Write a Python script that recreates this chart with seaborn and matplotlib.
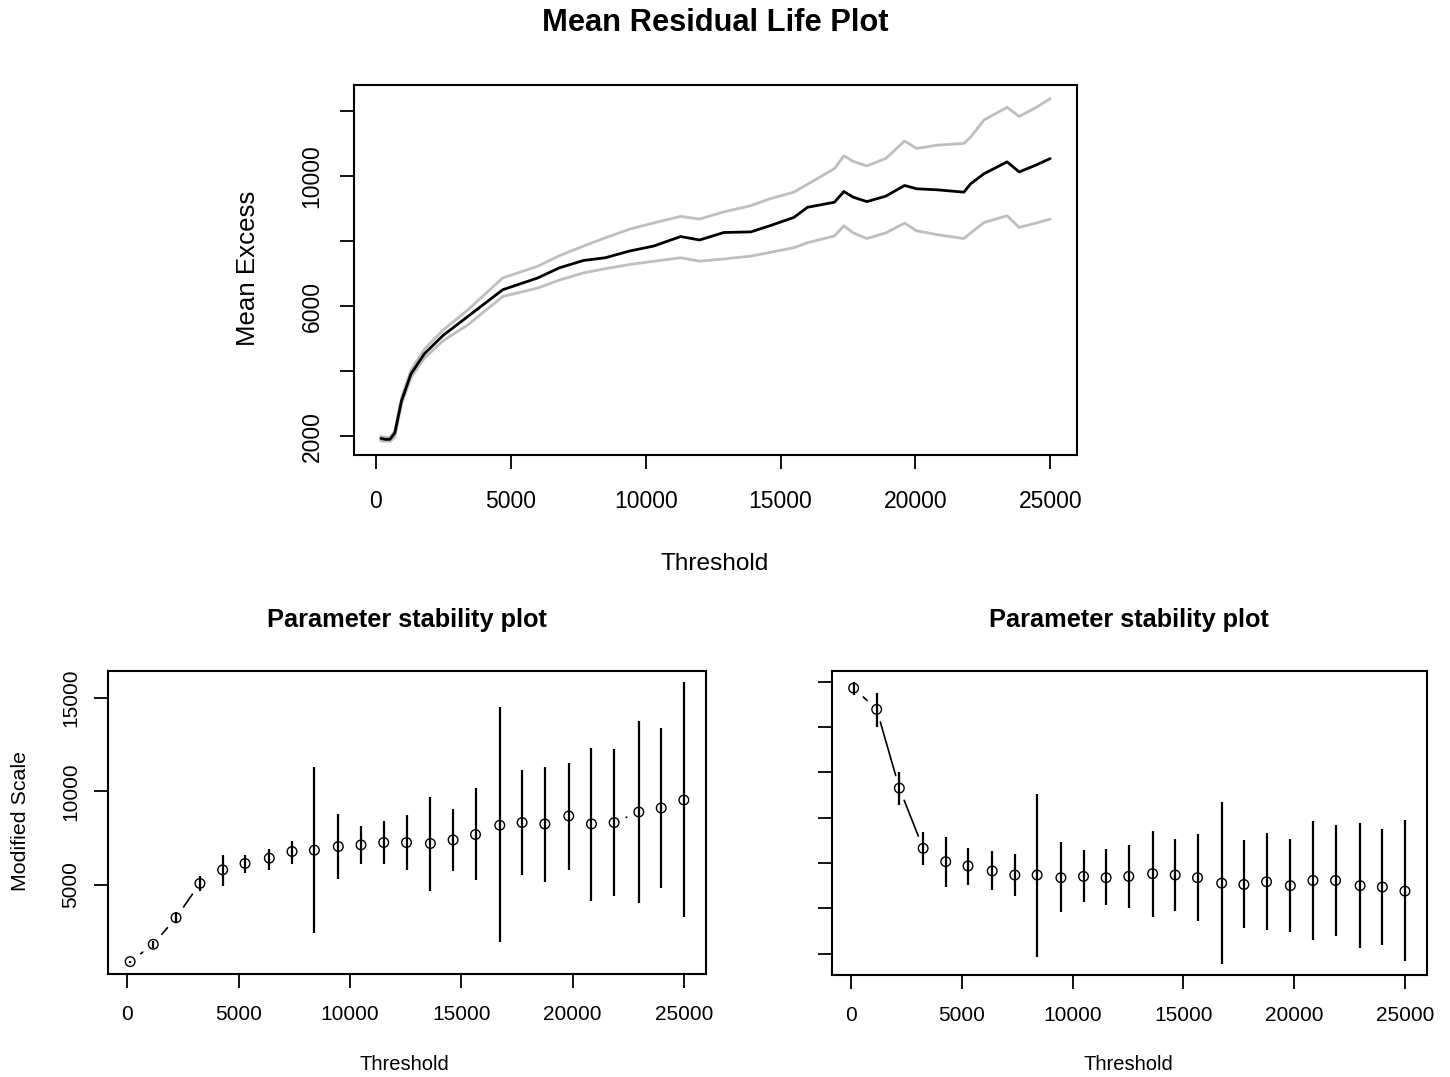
import numpy as np
import pandas as pd
import matplotlib
matplotlib.use("Agg")
import matplotlib.pyplot as plt
import seaborn as sns

# ---------------- data ----------------
# Mean residual life plot
mrl_threshold = [180, 350, 520, 700, 950, 1300, 1800, 2500, 3400, 4700, 6000, 6800,
                 7700, 8500, 9400, 10300, 11300, 12000, 12900, 13900, 14600, 15500,
                 16000, 17000, 17350, 17700, 18200, 18900, 19600, 20050, 20800,
                 21800, 22050, 22550, 23400, 23850, 24450, 25000]
mrl_mean = [1930, 1900, 1900, 2100, 3087, 3915, 4537, 5105, 5675, 6503, 6866, 7177,
            7404, 7487, 7693, 7848, 8140, 8034, 8264, 8283, 8470, 8730,
            9040, 9196, 9525, 9350, 9215, 9381, 9711, 9609, 9578,
            9506, 9764, 10075, 10438, 10127, 10332, 10540]
mrl_upper = [1990, 1960, 1960, 2150, 3180, 4030, 4680, 5270, 5880, 6866, 7227, 7550,
             7848, 8100, 8366, 8560, 8760, 8677, 8900, 9090, 9300, 9506,
             9750, 10230, 10624, 10450, 10314, 10540, 11078, 10851, 10950,
             11006, 11200, 11730, 12115, 11835, 12100, 12381]
mrl_lower = [1850, 1840, 1840, 1960, 2990, 3800, 4400, 4940, 5416, 6295, 6556, 6800,
             7022, 7150, 7280, 7380, 7487, 7382, 7450, 7538, 7650, 7798,
             7950, 8158, 8470, 8250, 8078, 8250, 8553, 8314, 8200,
             8078, 8250, 8574, 8780, 8419, 8550, 8677]

# Parameter stability plots
ps_threshold = [120, 1159, 2182, 3256, 4276, 5282, 6374, 7394, 8400, 9474, 10494,
                11514, 12538, 13612, 14631, 15638, 16729, 17731, 18755, 19829,
                20848, 21868, 22977, 23983, 25000]
mod_scale = [891, 1820, 3239, 5075, 5800, 6142, 6425, 6782, 6852, 7049, 7135, 7262,
             7262, 7209, 7401, 7689, 8186, 8330, 8255, 8682, 8255, 8330, 8896, 9109, 9536]
mod_scale_low = [830, 1605, 2957, 4682, 4949, 5625, 5803, 6105, 2423, 5305, 6105, 6105,
                 5803, 4682, 5731, 5251, 1925, 5518, 5127, 5803, 4131, 4380, 4024, 4824, 3259]
mod_scale_high = [950, 2014, 3526, 5447, 6603, 6585, 6941, 7350, 11317, 8773, 8150, 8417,
                  8720, 9716, 9075, 10196, 14518, 11121, 11317, 11530, 12330, 12241,
                  13736, 13380, 15852]
shape = [0.573, 0.479, 0.131, -0.135, -0.194, -0.213, -0.235, -0.253, -0.253, -0.265,
         -0.259, -0.265, -0.259, -0.247, -0.253, -0.265, -0.289, -0.295, -0.283, -0.300,
         -0.277, -0.277, -0.300, -0.306, -0.324]
shape_low = [0.544, 0.400, 0.057, -0.209, -0.305, -0.297, -0.319, -0.345, -0.615, -0.416,
             -0.374, -0.386, -0.398, -0.439, -0.410, -0.457, -0.645, -0.487, -0.497,
             -0.504, -0.538, -0.522, -0.574, -0.563, -0.634]
shape_high = [0.600, 0.551, 0.201, -0.062, -0.087, -0.133, -0.149, -0.161, 0.103, -0.108,
              -0.144, -0.138, -0.120, -0.057, -0.096, -0.073, 0.068, -0.098, -0.067,
              -0.096, -0.015, -0.033, -0.025, -0.050, -0.009]

x_ticks = [0, 5000, 10000, 15000, 20000, 25000]
mrl_yticks = [2000, 4000, 6000, 8000, 10000, 12000]
mrl_ylabels = ["2000", "", "6000", "", "10000", ""]
scale_yticks = [5000, 10000, 15000]
shape_yticks = [0.6, 0.4, 0.2, 0.0, -0.2, -0.4, -0.6]

# ---------------- style ----------------
sns.set_theme(style="ticks")
plt.rcParams['font.family'] = ['Liberation Sans', 'DejaVu Sans']
plt.rcParams['axes.edgecolor'] = 'black'
plt.rcParams['axes.labelcolor'] = 'black'
plt.rcParams['axes.linewidth'] = 1.5
plt.rcParams['text.color'] = 'black'
plt.rcParams['xtick.color'] = 'black'
plt.rcParams['ytick.color'] = 'black'

W, H = 1450, 1077
fig = plt.figure(figsize=(W / 100, H / 100), dpi=100)


def add_ax(l, t, r, b):
    return fig.add_axes([l / W, 1 - b / H, (r - l) / W, (b - t) / H])


def style_ax(ax, fs_tick, pad_x, pad_y):
    for s in ax.spines.values():
        s.set_visible(True)
        s.set_linewidth(1.5)
        s.set_color('black')
    ax.tick_params(axis='both', length=10, width=1.3, labelsize=fs_tick,
                   labelcolor='black')
    ax.tick_params(axis='x', pad=pad_x)
    ax.tick_params(axis='y', pad=pad_y)


def type_b_lines(ax, x, y, gap_px=13.1, **kw):
    pts = ax.transData.transform(np.column_stack([x, y]))
    inv = ax.transData.inverted()
    for p1, p2 in zip(pts[:-1], pts[1:]):
        d = p2 - p1
        L = np.hypot(*d)
        if L > 2 * gap_px + 0.5:
            a = p1 + d / L * gap_px
            b = p2 - d / L * gap_px
            seg = inv.transform(np.vstack([a, b]))
            ax.plot(seg[:, 0], seg[:, 1], **kw)


# ---------------- top: mean residual life ----------------
ax1 = add_ax(354, 85, 1077, 455)
mrl = pd.DataFrame({"Threshold": mrl_threshold, "mean": mrl_mean,
                    "upper": mrl_upper, "lower": mrl_lower})
sns.lineplot(data=mrl, x="Threshold", y="upper", ax=ax1, color="#bebebe", lw=2.0,
             estimator=None, sort=False)
sns.lineplot(data=mrl, x="Threshold", y="lower", ax=ax1, color="#bebebe", lw=2.0,
             estimator=None, sort=False)
sns.lineplot(data=mrl, x="Threshold", y="mean", ax=ax1, color="black", lw=2.0,
             estimator=None, sort=False)
ax1.margins(x=0.04, y=0.04)
ax1.set_xticks(x_ticks)
ax1.set_xticklabels([str(v) for v in x_ticks])
ax1.set_yticks(mrl_yticks)
ax1.set_yticklabels(mrl_ylabels)
style_ax(ax1, 16.5, 15.5, 12)
plt.setp(ax1.get_yticklabels(), rotation=90, va='center')
ax1.set_xlabel("Threshold", fontsize=17.6)
ax1.xaxis.set_label_coords(0.4993, -0.2946)
ax1.xaxis.label.set_va('center')
ax1.set_ylabel("Mean Excess", fontsize=18.6)
ax1.yaxis.set_label_coords(-0.1466, 0.504)
ax1.yaxis.label.set_va('center')
ax1.set_title("Mean Residual Life Plot", fontsize=22.2, fontweight='bold',
              y=1.1676, va='center', pad=0)

# ---------------- bottom left: modified scale ----------------
ps = pd.DataFrame({"Threshold": ps_threshold, "scale": mod_scale,
                   "scale_low": mod_scale_low, "scale_high": mod_scale_high,
                   "shape": shape, "shape_low": shape_low, "shape_high": shape_high})

ax2 = add_ax(108, 670.7, 706, 974)
ax2.vlines(ps["Threshold"], ps["scale_low"], ps["scale_high"], color='black', lw=1.6)
sns.scatterplot(data=ps, x="Threshold", y="scale", ax=ax2, marker='o', s=48,
                facecolors='none', edgecolor='black', linewidth=1.0, zorder=3)
ax2.margins(x=0.04, y=0.04)
ax2.set_xticks(x_ticks)
ax2.set_xticklabels([str(v) for v in x_ticks])
ax2.set_yticks(scale_yticks)
ax2.set_yticklabels([str(v) for v in scale_yticks])
style_ax(ax2, 15, 12, 10)
plt.setp(ax2.get_yticklabels(), rotation=90, va='center')
ax2.set_xlim(ax2.get_xlim())
ax2.set_ylim(ax2.get_ylim())
type_b_lines(ax2, ps["Threshold"].values, ps["scale"].values, color='black', lw=1.2)
ax2.set_xlabel("Threshold", fontsize=14.5)
ax2.xaxis.set_label_coords(0.495, -0.297)
ax2.xaxis.label.set_va('center')
ax2.set_ylabel("Modified Scale", fontsize=15.4)
ax2.yaxis.set_label_coords(-0.147, 0.504)
ax2.yaxis.label.set_va('center')
ax2.set_title("Parameter stability plot", fontsize=18.3, fontweight='bold',
              y=1.167, va='center', pad=0)

# ---------------- bottom right: shape ----------------
ax3 = add_ax(831.6, 670.7, 1427, 975)
ax3.vlines(ps["Threshold"], ps["shape_low"], ps["shape_high"], color='black', lw=1.6)
sns.scatterplot(data=ps, x="Threshold", y="shape", ax=ax3, marker='o', s=48,
                facecolors='none', edgecolor='black', linewidth=1.0, zorder=3)
ax3.margins(x=0.04, y=0.04)
ax3.set_xticks(x_ticks)
ax3.set_xticklabels([str(v) for v in x_ticks])
ax3.set_yticks(shape_yticks)
ax3.set_yticklabels([])
style_ax(ax3, 15, 12, 10)
ax3.set_xlim(ax3.get_xlim())
ax3.set_ylim(ax3.get_ylim())
type_b_lines(ax3, ps["Threshold"].values, ps["shape"].values, color='black', lw=1.2)
ax3.set_xlabel("Threshold", fontsize=14.5)
ax3.xaxis.set_label_coords(0.498, -0.2925)
ax3.xaxis.label.set_va('center')
ax3.set_ylabel("")
ax3.set_title("Parameter stability plot", fontsize=18.3, fontweight='bold',
              y=1.167, va='center', pad=0)

fig.savefig("out.png", dpi=100, facecolor='white')
